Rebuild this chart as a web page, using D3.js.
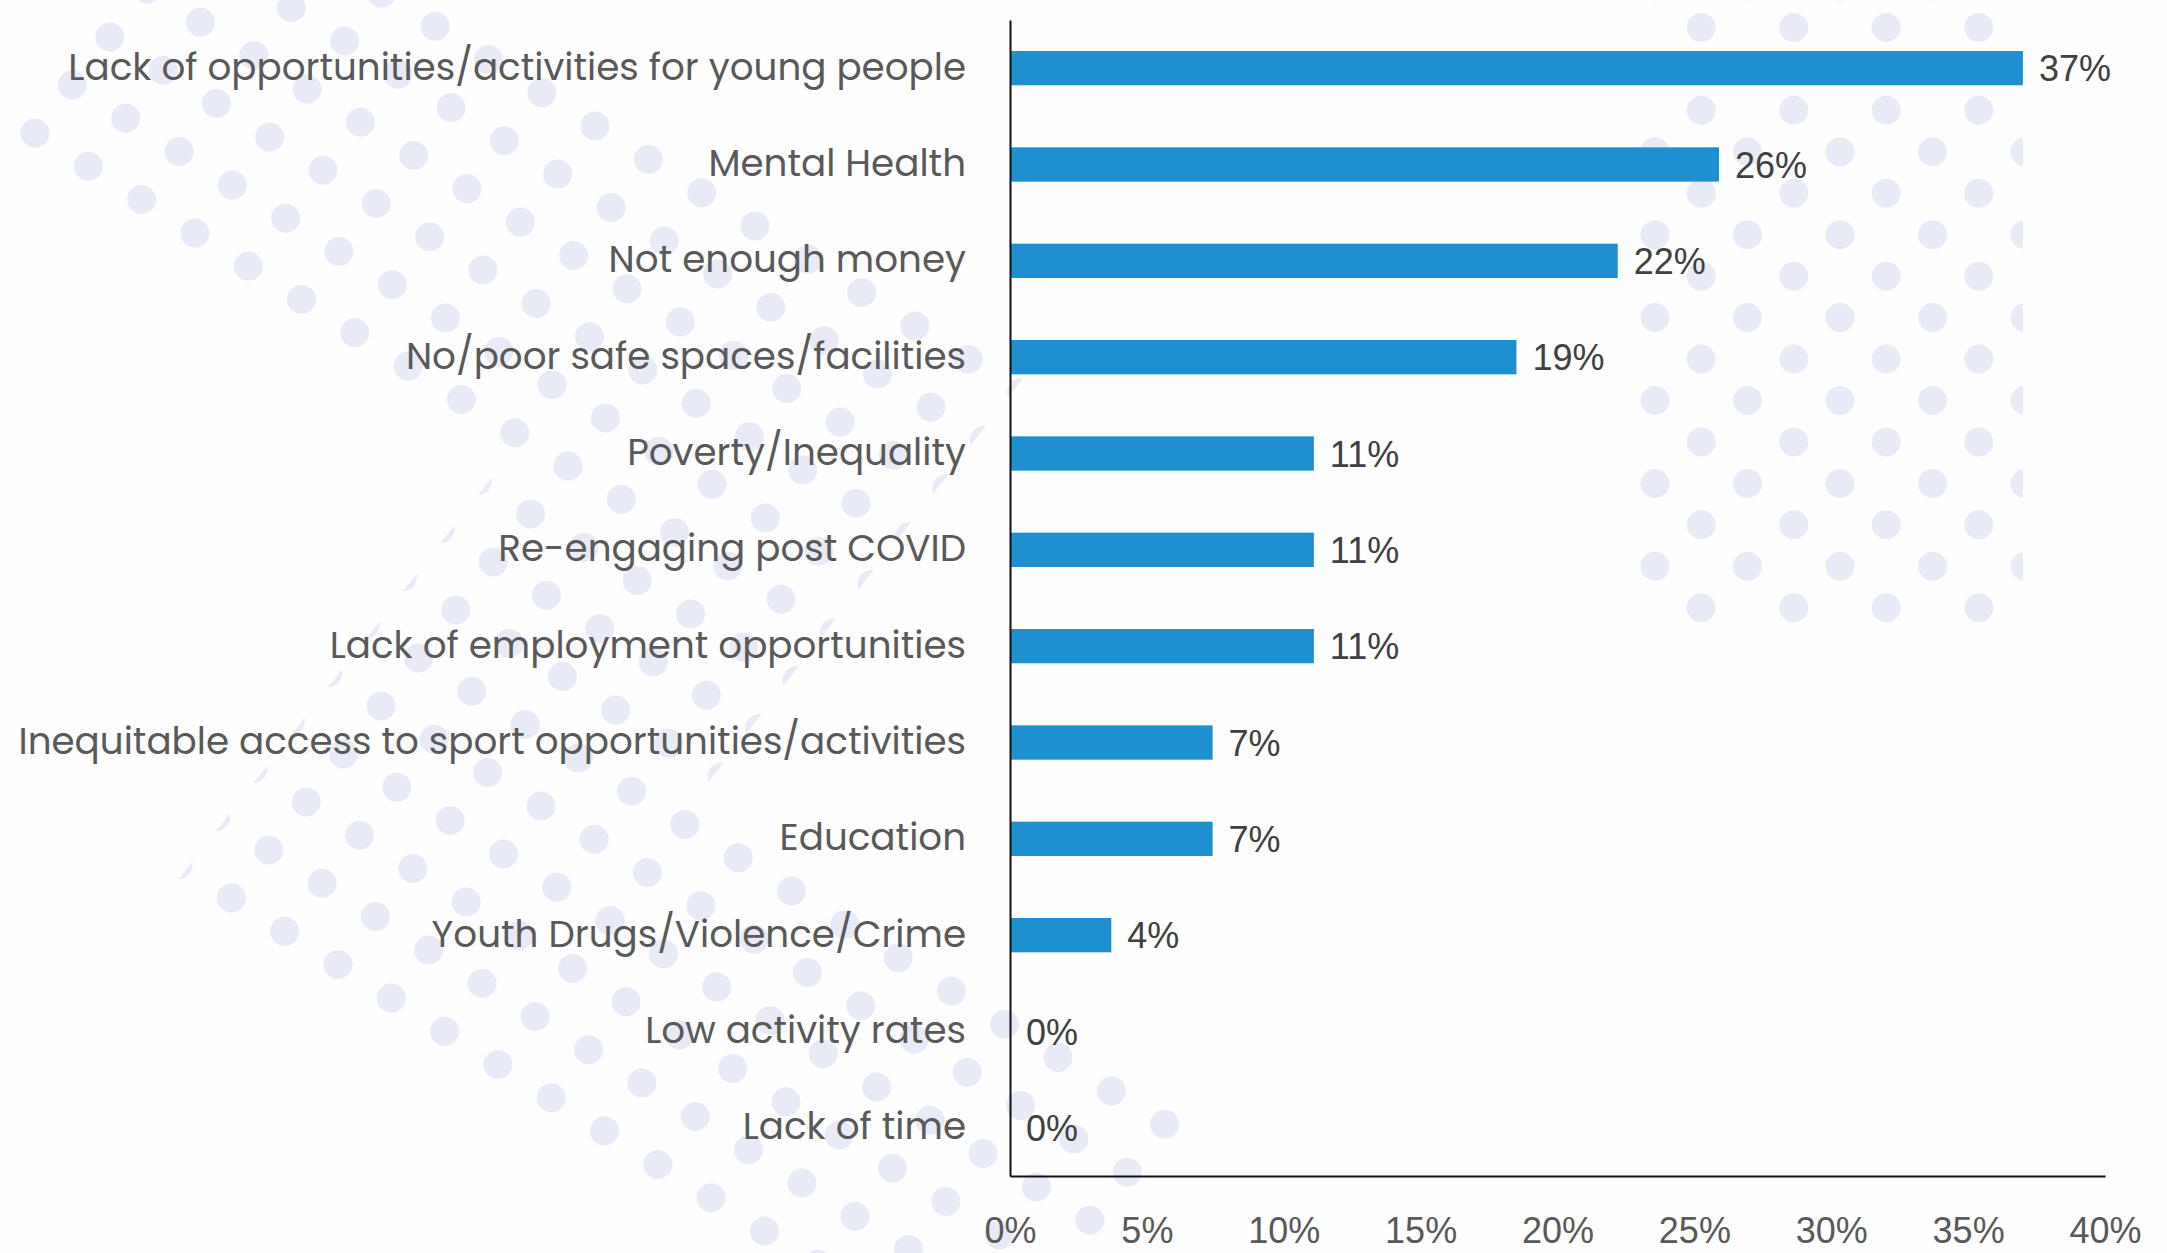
<!DOCTYPE html>
<html>
<head>
<meta charset="utf-8">
<script src="https://cdn.jsdelivr.net/npm/d3@7"></script>
<style>
  body { margin: 0; background: #fefefe; }
  svg { display: block; }
</style>
</head>
<body>
<script>
// chart data
const categories = [
  "Lack of opportunities/activities for young people",
  "Mental Health",
  "Not enough money",
  "No/poor safe spaces/facilities",
  "Poverty/Inequality",
  "Re-engaging post COVID",
  "Lack of employment opportunities",
  "Inequitable access to sport opportunities/activities",
  "Education",
  "Youth Drugs/Violence/Crime",
  "Low activity rates",
  "Lack of time"
];
const values = [37.0, 25.9, 22.2, 18.5, 11.1, 11.1, 11.1, 7.4, 7.4, 3.7, 0, 0];
const xTicks = [0, 5, 10, 15, 20, 25, 30, 35, 40];

const width = 2167, height = 1253;
const svg = d3.select('body')
  .append('svg')
  .attr('width', width)
  .attr('height', height)
  .style('background', '#fefefe');

const x = d3.scaleLinear().domain([0, 40]).range([1010, 2105]);
const y = d3.scaleBand()
  .domain(categories)
  .range([20, 1176])
  .paddingInner(0.644)
  .paddingOuter(0.322);

// decorative dot pattern behind the chart
const dotColor = '#e8eaf6';
const defs = svg.append('defs');
const bg = svg.append('g');

// left swoosh: tilted lattice clipped to a stepped band
const O = [35, 133], A = [53.3, 33.3], B = [37.4, -48.0];
const toXY = (u, v) => [O[0] + u * A[0] + v * B[0], O[1] + u * A[1] + v * B[1]];
const band = [[-0.6, 5.5], [14.88, 5.5], [14.88, -3.5], [24.5, -3.5],
              [24.5, -9.5], [9.15, -9.5], [9.15, -0.5], [-0.6, -0.5]];
defs.append('clipPath').attr('id', 'swoosh')
  .append('path')
  .attr('d', d3.line()(band.map(p => toXY(p[0], p[1]))) + 'Z');

const swooshDots = [];
for (let u = -2; u <= 26; u++) {
  for (let v = -11; v <= 7; v++) swooshDots.push(toXY(u, v));
}
bg.append('g')
  .attr('clip-path', 'url(#swoosh)')
  .selectAll('circle')
  .data(swooshDots)
  .join('circle')
  .attr('cx', d => d[0])
  .attr('cy', d => d[1])
  .attr('r', 14.5)
  .attr('fill', dotColor);

// right block: staggered grid cut on the right
defs.append('clipPath').attr('id', 'grid')
  .append('rect')
  .attr('x', 1600).attr('y', -20)
  .attr('width', 423).attr('height', 700);

const gridDots = [];
for (let r = 0; r < 16; r++) {
  for (let m = 0; m < 5; m++) {
    gridDots.push([1655 + 92.5 * m + (r % 2 ? 46.25 : 0), -14 + 41.45 * r]);
  }
}
bg.append('g')
  .attr('clip-path', 'url(#grid)')
  .selectAll('circle')
  .data(gridDots)
  .join('circle')
  .attr('cx', d => d[0])
  .attr('cy', d => d[1])
  .attr('r', 14.5)
  .attr('fill', dotColor);

// bars
svg.append('g')
  .selectAll('rect')
  .data(values)
  .join('rect')
  .attr('x', x(0))
  .attr('y', (d, i) => y(categories[i]))
  .attr('width', d => x(d) - x(0))
  .attr('height', y.bandwidth())
  .attr('fill', '#1e8fd0');

// value labels
svg.append('g')
  .attr('font-family', '"Liberation Sans", Arial, sans-serif')
  .attr('font-size', 36)
  .attr('fill', '#404040')
  .selectAll('text')
  .data(values)
  .join('text')
  .attr('x', d => x(d) + 16)
  .attr('y', (d, i) => y(categories[i]) + y.bandwidth() / 2 + 13)
  .text(d => d3.format('.0f')(d) + '%');

// y axis with category labels
const yAxis = svg.append('g')
  .attr('transform', 'translate(' + x(0) + ',0)')
  .call(d3.axisLeft(y).tickSize(0).tickPadding(44));
yAxis.select('.domain').attr('stroke', '#111').attr('stroke-width', 2);
const catText = yAxis.selectAll('text')
  .attr('font-family', '"Poppins", "Open Sans", sans-serif')
  .attr('font-size', 37)
  .attr('fill', '#595959')
  .attr('dy', '0.31em');

// fit the longest label to the width it has in the reference
let maxW = 0;
catText.each(function () { maxW = Math.max(maxW, this.getComputedTextLength()); });
const fs = Math.max(30, Math.min(44, 37 * 948 / maxW));
catText.attr('font-size', fs);

// x axis
const xAxis = svg.append('g')
  .attr('transform', 'translate(0,1176)')
  .call(d3.axisBottom(x).tickValues(xTicks).tickFormat(d => d + '%').tickSize(0).tickPadding(41));
xAxis.select('.domain').attr('stroke', '#111').attr('stroke-width', 2);
xAxis.selectAll('text')
  .attr('font-family', '"Liberation Sans", Arial, sans-serif')
  .attr('font-size', 36)
  .attr('fill', '#595959');
</script>
</body>
</html>
